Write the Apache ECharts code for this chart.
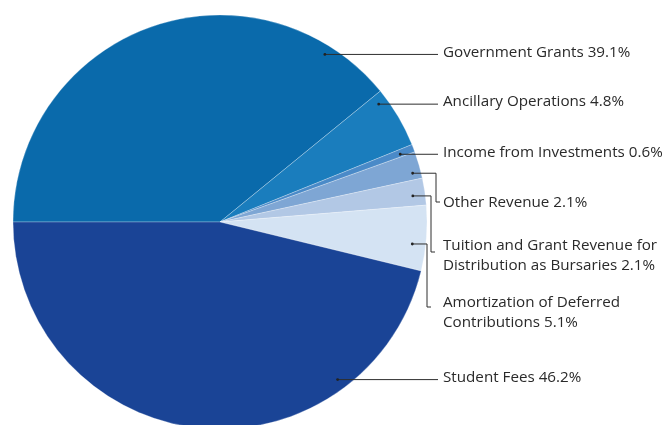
<!DOCTYPE html>
<html>
<head>
<meta charset="utf-8">
<script src="https://cdn.jsdelivr.net/npm/echarts@6/dist/echarts.min.js"></script>
<style>html,body{margin:0;padding:0;background:#fff}#c{width:665px;height:425px}</style>
</head>
<body>
<div id="c"></div>
<script>
// ---- data ----
var categories = [
  'Government Grants',
  'Ancillary Operations',
  'Income from Investments',
  'Other Revenue',
  'Tuition and Grant Revenue for\nDistribution as Bursaries',
  'Amortization of Deferred\nContributions',
  'Student Fees'
];
var values = [39.1, 4.8, 0.6, 2.1, 2.1, 5.1, 46.2];

// ---- styles / layout (not data) ----
var colors = ['#0a6aab', '#1a7dbd', '#4a8ac8', '#7ea6d4', '#b2c8e5', '#d4e3f3', '#1a4496'];
var CX = 220, CY = 222, R = 207, START = 180;
var labelX = 443;
var labelY = [53, 102, 153, 203, 256, 313, 378];
// where the leader starts inside each slice: fraction along slice, fraction of radius
var anchorFrac = [0.867, 0.153, 0.63, 0.74, 0.6, 0.61, 0.238];
var anchorRad = [0.955, 0.955, 0.93, 0.96, 0.94, 0.935, 0.95];
// bracket leaders: x of vertical segment and y where it meets the label
var bracketX = [null, null, null, 436, 431, 427, null];
var bracketEndY = [null, null, null, 202, 252, 307, null];
var lineEndX = 438;

var total = values.reduce(function (a, b) { return a + b; }, 0);
function anchorPoint(i) {
  var before = 0;
  for (var k = 0; k < i; k++) before += values[k];
  var deg = START - (before + values[i] * anchorFrac[i]) / total * 360;
  var rad = deg * Math.PI / 180;
  var r = R * anchorRad[i];
  return [CX + r * Math.cos(rad), CY - r * Math.sin(rad)];
}

// leader lines computed from the slice geometry
var graphics = [];
values.forEach(function (v, i) {
  var a = anchorPoint(i);
  var pts;
  if (bracketX[i] != null) {
    pts = [a, [bracketX[i], a[1]], [bracketX[i], bracketEndY[i]], [bracketX[i] + 4, bracketEndY[i]]];
  } else {
    pts = [a, [lineEndX, a[1]]];
  }
  graphics.push({
    type: 'polyline', z: 100,
    shape: { points: pts },
    style: { stroke: '#2e2e2e', lineWidth: 1, fill: null }
  });
  graphics.push({
    type: 'circle', z: 101,
    shape: { cx: a[0], cy: a[1], r: 1.4 },
    style: { fill: '#222' }
  });
});

var chart = echarts.init(document.getElementById('c'), null, { renderer: 'canvas' });
chart.setOption({
  animation: false,
  color: colors,
  graphic: graphics,
  series: [{
    type: 'pie',
    center: [CX, CY],
    radius: R,
    startAngle: START,
    clockwise: true,
    avoidLabelOverlap: false,
    itemStyle: { borderColor: 'rgba(255,255,255,0.45)', borderWidth: 0.6 },
    label: {
      show: true,
      position: 'outside',
      color: '#2a2a2a',
      fontFamily: 'Open Sans',
      fontSize: 15.2,
      lineHeight: 20,
      formatter: function (p) { return p.name + ' ' + p.value.toFixed(1) + '%'; }
    },
    labelLine: { show: false },
    labelLayout: function (p) {
      return {
        x: labelX,
        y: labelY[p.dataIndex],
        align: 'left',
        verticalAlign: 'middle'
      };
    },
    data: categories.map(function (c, i) { return { name: c, value: values[i] }; })
  }]
});
</script>
</body>
</html>
